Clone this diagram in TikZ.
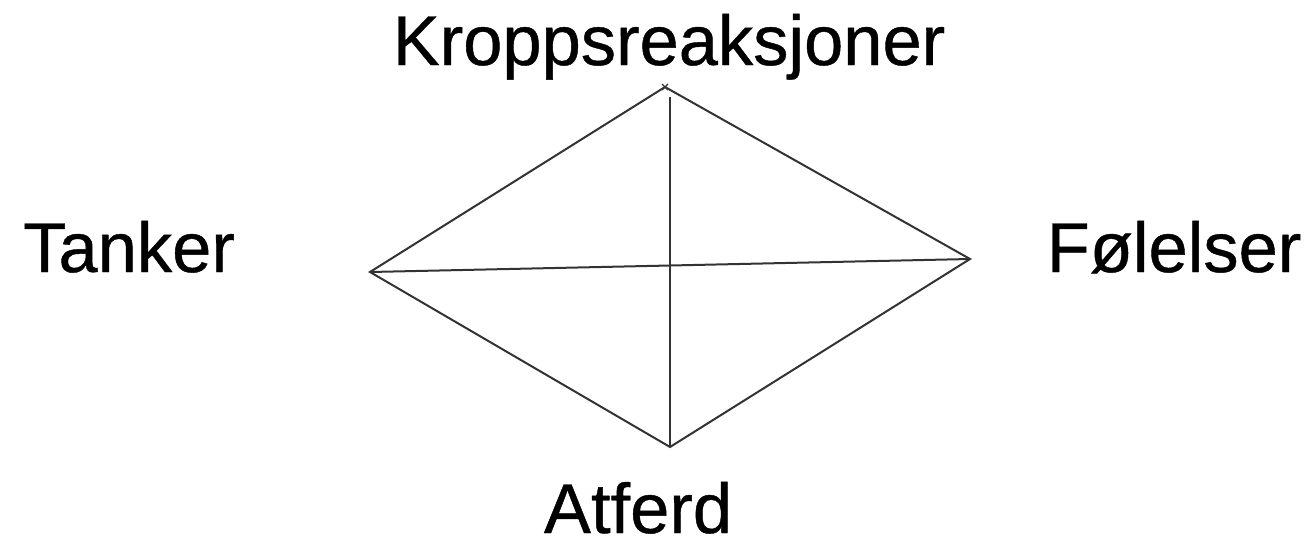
\documentclass[tikz,border=0pt]{standalone}
\usepackage{fontspec}
\setmainfont{Liberation Sans}
\newfontfamily\lblfont{Liberation Sans}[FakeBold=0.6]
\begin{document}
\begin{tikzpicture}[x=1pt,y=-1pt,
  lbl/.style={anchor=base,inner sep=0pt,font=\lblfont\fontsize{70.5}{80}\selectfont},
  edge/.style={draw=black!80,line width=2pt}]
\useasboundingbox[fill=white] (0,0) rectangle (1311,544);
\node[lbl] (kr) at (669,65) {Kroppsreaksjoner};
\node[lbl] (ta) at (129,272) {Tanker};
\node[lbl] (fo) at (1174,272) {Følelser};
\node[lbl] (at) at (638,533) {Atferd};
\coordinate (t) at (665,87);
\coordinate (l) at (370,272);
\coordinate (r) at (970,259);
\coordinate (b) at (670,447);
\coordinate (vt) at (670,97);
\path[edge] (t) -- (r) -- (b) -- (l) -- cycle;
\path[edge] (l) -- (r);
\path[edge] (vt) -- (b);
\draw[black!80,line width=1.2pt] ([shift={(-3,-3)}]t) -- ([shift={(3,3)}]t)
  ([shift={(-3,3)}]t) -- ([shift={(3,-3)}]t);
\end{tikzpicture}
\end{document}
